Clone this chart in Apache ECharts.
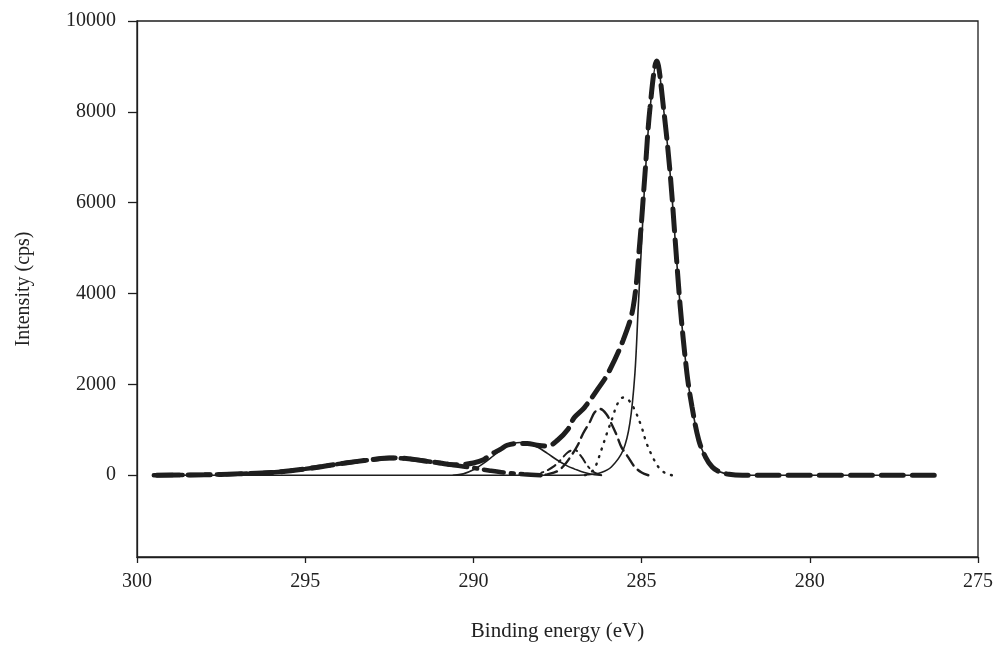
<!DOCTYPE html>
<html>
<head>
<meta charset="utf-8">
<title>C1s XPS</title>
<script src="https://cdn.jsdelivr.net/npm/echarts@6/dist/echarts.min.js"></script>
<style>
  html, body { margin: 0; padding: 0; background: #fff; }
  #main { width: 1000px; height: 647px; }
</style>
</head>
<body>
<div id="main"></div>
<script>
// tick labels
const xTicks = [300, 295, 290, 285, 280, 275];
const yTicks = [0, 2000, 4000, 6000, 8000, 10000];

// [binding energy (eV), intensity (cps)]
// envelope (sum of the fitted peaks)
const envelope = [[276.3,0],[282,0],[282.4,20],[282.7,80],[282.9,180],[283.1,400],[283.3,770],[283.5,1500],
  [283.65,2230],[283.85,3700],[284.0,5160],[284.15,6630],[284.35,8090],[284.55,9120],[284.75,8090],[284.9,6630],
  [285.05,5160],[285.25,3700],[285.55,2970],[286.0,2240],[286.3,1900],[286.7,1490],[287.0,1270],[287.2,1000],
  [287.5,770],[287.8,640],[288.1,660],[288.4,700],[288.7,700],[289.0,660],[289.2,570],[289.5,450],[289.7,340],
  [290.0,270],[290.3,240],[290.6,230],[291.0,270],[291.5,320],[292.0,370],[292.5,380],[293.0,345],[293.5,300],
  [294.0,250],[295.0,140],[296.0,60],[297.0,30],[298.0,10],[299.5,0]];
// main C-C peak (thin solid)
const peakCC = [[276.3,0],[282,0],[282.4,20],[282.7,80],[282.9,180],[283.1,400],[283.3,770],[283.5,1500],
  [283.65,2230],[283.85,3700],[284.0,5160],[284.15,6630],[284.35,8090],[284.55,9120],[284.75,8050],[284.9,6500],
  [285.0,5100],[285.1,3700],[285.2,2230],[285.35,1140],[285.55,550],[285.9,180],[286.2,60],[286.6,10],
  [287.0,0],[299.5,0]];
// dotted peak
const peakDot = [[284.1,0],[284.3,50],[284.5,180],[284.65,370],[284.85,700],[285.0,1060],[285.2,1430],
  [285.38,1650],[285.55,1710],[285.74,1540],[285.84,1320],[286.0,990],[286.1,770],[286.2,550],[286.3,330],
  [286.4,150],[286.55,40],[286.7,0]];
// dashed peak
const peakDash = [[284.8,0],[285.0,60],[285.2,180],[285.4,400],[285.6,620],[285.74,880],[285.9,1140],
  [286.05,1350],[286.24,1460],[286.4,1380],[286.54,1170],[286.74,920],[286.9,660],[287.1,420],[287.3,220],
  [287.5,90],[287.8,20],[288.0,0]];
// small dash-dot peak
const peakDashDot = [[286.2,0],[286.4,60],[286.6,200],[286.8,420],[287.0,560],[287.2,500],[287.4,340],
  [287.6,200],[287.8,110],[288.0,50],[288.3,0]];
// peak near 288.6 eV (thin solid)
const peakCOO = [[286.2,0],[286.4,10],[286.7,60],[287.0,140],[287.2,200],[287.5,330],[287.8,480],[288.1,620],
  [288.4,700],[288.6,720],[288.8,700],[289.1,600],[289.4,430],[289.7,260],[290.0,120],[290.3,30],[290.6,0]];
// broad shake-up hump (thick dash-dot)
const peakShake = [[288.0,0],[288.5,20],[289.0,50],[289.5,100],[290.0,160],[290.5,215],[291.0,270],
  [291.5,320],[292.0,365],[292.5,380],[293.0,345],[293.5,300],[294.0,250],[295.0,140],[296.0,60],[297.0,30],
  [298.0,10],[299.5,0]];

const ink = '#1e1e1e';
const serif = '"Liberation Serif", "DejaVu Serif", serif';

function line(data, width, type, z) {
  return {
    type: 'line', data: data, symbol: 'none', smooth: 0.35, z: z,
    lineStyle: { color: ink, width: width, type: type, cap: 'round' }
  };
}

const myChart = echarts.init(document.getElementById('main'));
const option = {
  animation: false,
  backgroundColor: '#fff',
  grid: { left: 137, right: 22, top: 21, bottom: 90, show: true, borderColor: ink, borderWidth: 1.3 },
  xAxis: {
    type: 'value', inverse: true, min: 275, max: 300, interval: 5,
    name: 'Binding energy (eV)', nameLocation: 'middle', nameGap: 64,
    nameTextStyle: { fontFamily: serif, fontSize: 21, color: '#222' },
    axisLine: { onZero: false, lineStyle: { color: ink, width: 1.3 } },
    axisTick: { length: 6, lineStyle: { color: ink, width: 1.3 } },
    axisLabel: { customValues: xTicks, fontFamily: serif, fontSize: 20, color: '#222', margin: 15,
      formatter: v => String(v) },
    splitLine: { show: false }
  },
  yAxis: {
    type: 'value', min: -1800, max: 10000,
    name: 'Intensity (cps)', nameLocation: 'middle', nameGap: 103, nameRotate: 90,
    nameTextStyle: { fontFamily: serif, fontSize: 20, color: '#222' },
    axisLine: { onZero: false, lineStyle: { color: ink, width: 1.3 } },
    axisTick: { length: 9, customValues: yTicks, lineStyle: { color: ink, width: 1.3 } },
    axisLabel: { customValues: yTicks, fontFamily: serif, fontSize: 20, color: '#222', margin: 21,
      formatter: v => String(v) },
    splitLine: { show: false }
  },
  series: [
    line(peakShake, 4.5, [20, 7, 3, 7], 2),
    line(peakCOO, 1.6, 'solid', 3),
    line(peakDashDot, 2, [9, 5, 2, 5], 3),
    line(peakDash, 2.4, [12, 6], 3),
    line(peakDot, 2.4, [1, 7], 3),
    line(peakCC, 1.6, 'solid', 4),
    line(envelope, 5, [22, 9], 5)
  ]
};
myChart.setOption(option);
</script>
</body>
</html>
